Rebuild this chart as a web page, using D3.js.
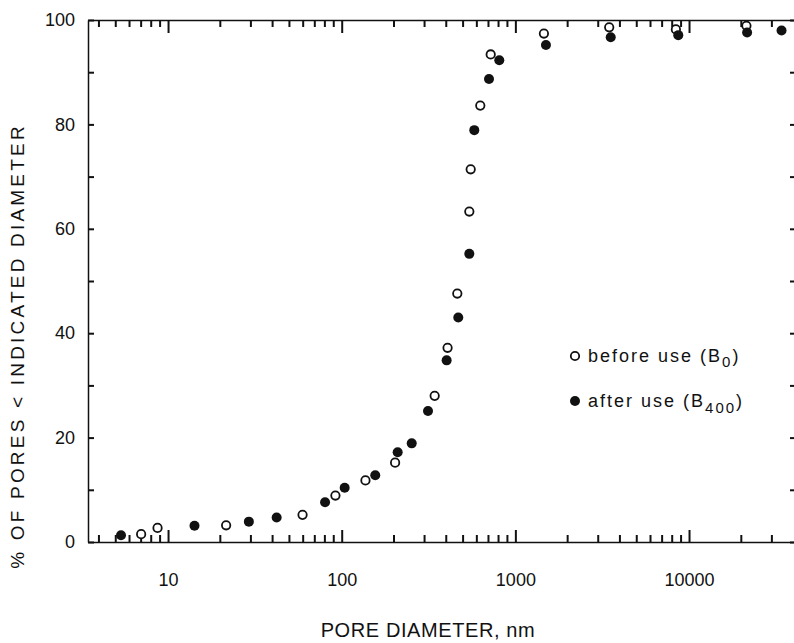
<!DOCTYPE html>
<html>
<head>
<meta charset="utf-8">
<script src="https://cdn.jsdelivr.net/npm/d3@7"></script>
<style>
  body { margin: 0; background: #fff; }
  text { font-family: "Liberation Sans", Arial, sans-serif; fill: #111; }
  .axis path, .axis line { stroke: #111; stroke-width: 1.5; }
</style>
</head>
<body>
<svg id="chart" width="794" height="643"></svg>
<script>
// pore diameter (nm) vs cumulative % of pores
const beforeDiam = [7.0, 8.7, 21.6, 59.5, 92, 137, 203, 343, 407, 463, 543, 553, 628, 721, 1460, 3470, 8400, 21400];
const beforePct  = [1.5, 2.7, 3.2, 5.2, 8.9, 11.8, 15.2, 28.0, 37.2, 47.6, 63.3, 71.4, 83.6, 93.4, 97.4, 98.6, 98.2, 98.9];

const afterDiam = [5.36, 14.2, 29.2, 42.2, 80.2, 104, 156, 210, 253, 314, 402, 469, 543, 580, 705, 808, 1500, 3540, 8670, 21600, 34100];
const afterPct  = [1.3, 3.1, 3.9, 4.7, 7.6, 10.4, 12.8, 17.2, 18.9, 25.1, 34.8, 43.0, 55.2, 78.9, 88.7, 92.3, 95.2, 96.7, 97.1, 97.6, 98.0];

const xTickLabels = [10, 100, 1000, 10000];
const yTicks = [0, 10, 20, 30, 40, 50, 60, 70, 80, 90, 100];
const yTickLabels = [0, 20, 40, 60, 80, 100];

const svg = d3.select("#chart"),
  margin = {top: 20, right: -2, bottom: 101, left: 88},
  width = +svg.attr("width") - margin.left - margin.right,
  height = +svg.attr("height") - margin.top - margin.bottom;

const g = svg.append("g")
    .attr("transform", "translate(" + margin.left + "," + margin.top + ")");

const x = d3.scaleLog().domain([3.46, 41300]).range([0, width]);
const y = d3.scaleLinear().domain([0, 100]).range([height, 0]);

// 2..9 of every decade, up to the right edge
const minorTicks = [];
[1, 10, 100, 1000, 10000].forEach(dec => {
  for (let k = 2; k <= 9; k++) {
    const v = k * dec;
    if (v > x.domain()[0] && v < 35000) minorTicks.push(v);
  }
});

function minor(sel, dir) {
  sel.selectAll("line.minor")
    .data(minorTicks)
    .enter().append("line")
      .attr("class", "minor")
      .attr("x1", d => x(d))
      .attr("x2", d => x(d))
      .attr("y1", 0)
      .attr("y2", dir * 7)
      .attr("stroke", "#111")
      .attr("stroke-width", 2);
}

// bottom axis
const gx = g.append("g")
    .attr("class", "axis axis--x")
    .attr("transform", "translate(0," + height + ")")
    .call(d3.axisBottom(x).tickValues(xTickLabels).tickSize(-12).tickSizeOuter(0)
      .tickPadding(31).tickFormat(d3.format("d")));
gx.call(minor, -1);

// top axis
const gt = g.append("g")
    .attr("class", "axis")
    .call(d3.axisTop(x).tickValues(xTickLabels).tickSize(-13).tickSizeOuter(0).tickFormat(""));
gt.call(minor, 1);

// left / right axes
g.append("g")
    .attr("class", "axis axis--y")
    .call(d3.axisLeft(y).tickValues(yTicks).tickSize(-6).tickSizeOuter(0).tickPadding(13)
      .tickFormat(d => yTickLabels.indexOf(d) >= 0 ? d : ""));
g.append("g")
    .attr("class", "axis")
    .attr("transform", "translate(" + width + ",0)")
    .call(d3.axisRight(y).tickValues(yTicks).tickSize(-6).tickSizeOuter(0).tickFormat(""));

g.selectAll(".axis line").attr("stroke-width", 2).style("stroke-width", "2px");
g.selectAll(".axis text").style("font-size", "18px").attr("font-family", null);

// points
const before = beforeDiam.map((d, i) => ({d: d, p: beforePct[i]}));
const after = afterDiam.map((d, i) => ({d: d, p: afterPct[i]}));

g.selectAll(".before")
  .data(before)
  .enter().append("circle")
    .attr("class", "before")
    .attr("cx", d => x(d.d))
    .attr("cy", d => y(d.p))
    .attr("r", 4.2)
    .attr("fill", "#fff")
    .attr("stroke", "#111")
    .attr("stroke-width", 1.8);

g.selectAll(".after")
  .data(after)
  .enter().append("circle")
    .attr("class", "after")
    .attr("cx", d => x(d.d))
    .attr("cy", d => y(d.p))
    .attr("r", 5)
    .attr("fill", "#111");

// legend
const legend = svg.append("g").attr("transform", "translate(575,356)");
legend.append("circle").attr("r", 4.2).attr("fill", "#fff").attr("stroke", "#111").attr("stroke-width", 1.8);
legend.append("circle").attr("cy", 45).attr("r", 5).attr("fill", "#111");

const t1 = legend.append("text").attr("x", 13).attr("y", 6)
    .style("font-size", "18px").style("letter-spacing", "2px");
t1.append("tspan").text("before use (B");
t1.append("tspan").attr("dy", 5).style("font-size", "15px").text("0");
t1.append("tspan").attr("dy", -5).text(")");

const t2 = legend.append("text").attr("x", 13).attr("y", 51)
    .style("font-size", "18px").style("letter-spacing", "2px");
t2.append("tspan").text("after use (B");
t2.append("tspan").attr("dy", 6).style("font-size", "15px").text("400");
t2.append("tspan").attr("dy", -6).text(")");

// axis titles
svg.append("text")
    .attr("x", 428)
    .attr("y", 637)
    .attr("text-anchor", "middle")
    .style("font-size", "20px")
    .style("letter-spacing", "0.6px")
    .text("PORE DIAMETER, nm");

svg.append("text")
    .attr("transform", "translate(24,346) rotate(-90)")
    .attr("text-anchor", "middle")
    .style("font-size", "19px")
    .style("letter-spacing", "3.2px")
    .text("% OF PORES < INDICATED DIAMETER");
</script>
</body>
</html>
